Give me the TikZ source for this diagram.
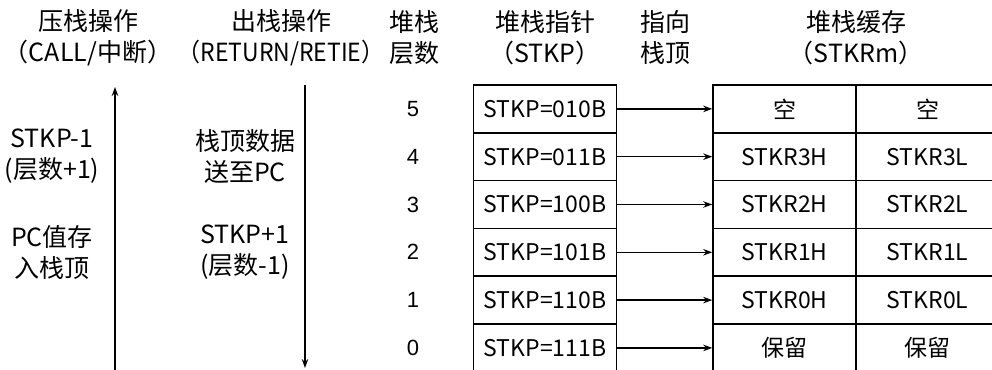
\documentclass[tikz,border=0pt]{standalone}
\usepackage{fontspec}
\setmainfont{Noto Sans CJK SC}
\newfontfamily\numfont{Liberation Sans}
\newfontfamily\narrowfont[FakeStretch=0.92]{Noto Sans CJK SC}
\usetikzlibrary{arrows.meta}
\tikzset{
  txt/.style={inner sep=0pt, align=center, font=\fontsize{25}{31}\selectfont},
  num/.style={inner sep=0pt, font=\numfont\fontsize{22}{26}\selectfont},
  cell/.style={draw, line width=1.6pt, minimum width=143pt, minimum height=47.8pt, inner sep=0pt, font=\fontsize{23}{28}\selectfont},
  arr/.style={line width=1.3pt, -{Stealth[length=9pt,width=6.5pt]}},
}
\begin{document}
\begin{tikzpicture}[x=1pt,y=-1pt]
\useasboundingbox (0,0) rectangle (992,369);
\clip (0,0) rectangle (992,369);
% headers
\node[txt] (h1) at (88,37.5) {压栈操作\\（CALL/中断）};
\node[txt] (h2) at (281,37.5) {出栈操作\\{\narrowfont（RETURN/RETIE）}};
\node[txt] (h3) at (414,37.5) {堆栈\\层数};
\node[txt] (h4) at (545,37.5) {堆栈指针\\（STKP）};
\node[txt] (h5) at (665,37.5) {指向\\栈顶};
\node[txt] (h6) at (856,37.5) {堆栈缓存\\（STKRm）};
% side texts
\node[txt] (l1) at (52,156.5) {STKP-1\\(层数+1)};
\node[txt] (l2) at (52,252.5) {PC值存\\入栈顶};
\node[txt] (m1) at (245,156.5) {栈顶数据\\送至PC};
\node[txt] (m2) at (245,252.5) {STKP+1\\(层数-1)};
% vertical arrows
\coordinate (ua) at (115,372);
\coordinate (ub) at (115,87);
\coordinate (da) at (305,85);
\coordinate (db) at (305,368);
\draw[arr] (ua) -- (ub);
\draw[arr] (da) -- (db);
% rows
\foreach \i/\n/\p/\hh/\ll [count=\k from 0] in {
  5/5/STKP=010B/空/空,
  4/4/STKP=011B/STKR3H/STKR3L,
  3/3/STKP=100B/STKR2H/STKR2L,
  2/2/STKP=101B/STKR1H/STKR1L,
  1/1/STKP=110B/STKR0H/STKR0L,
  0/0/STKP=111B/保留/保留}{
  \pgfmathsetmacro{\yy}{85+47.8*(\k+0.5)}
  \node[num] (n\i) at (413,\yy) {\n};
  \node[cell] (p\i) at (545,\yy) {\p};
  \node[cell] (h\i) at (784.5,\yy) {\hh};
  \node[cell] (r\i) at (927.5,\yy) {\ll};
  \draw[arr] (p\i.east) -- (h\i.west);
}
\end{tikzpicture}
\end{document}
